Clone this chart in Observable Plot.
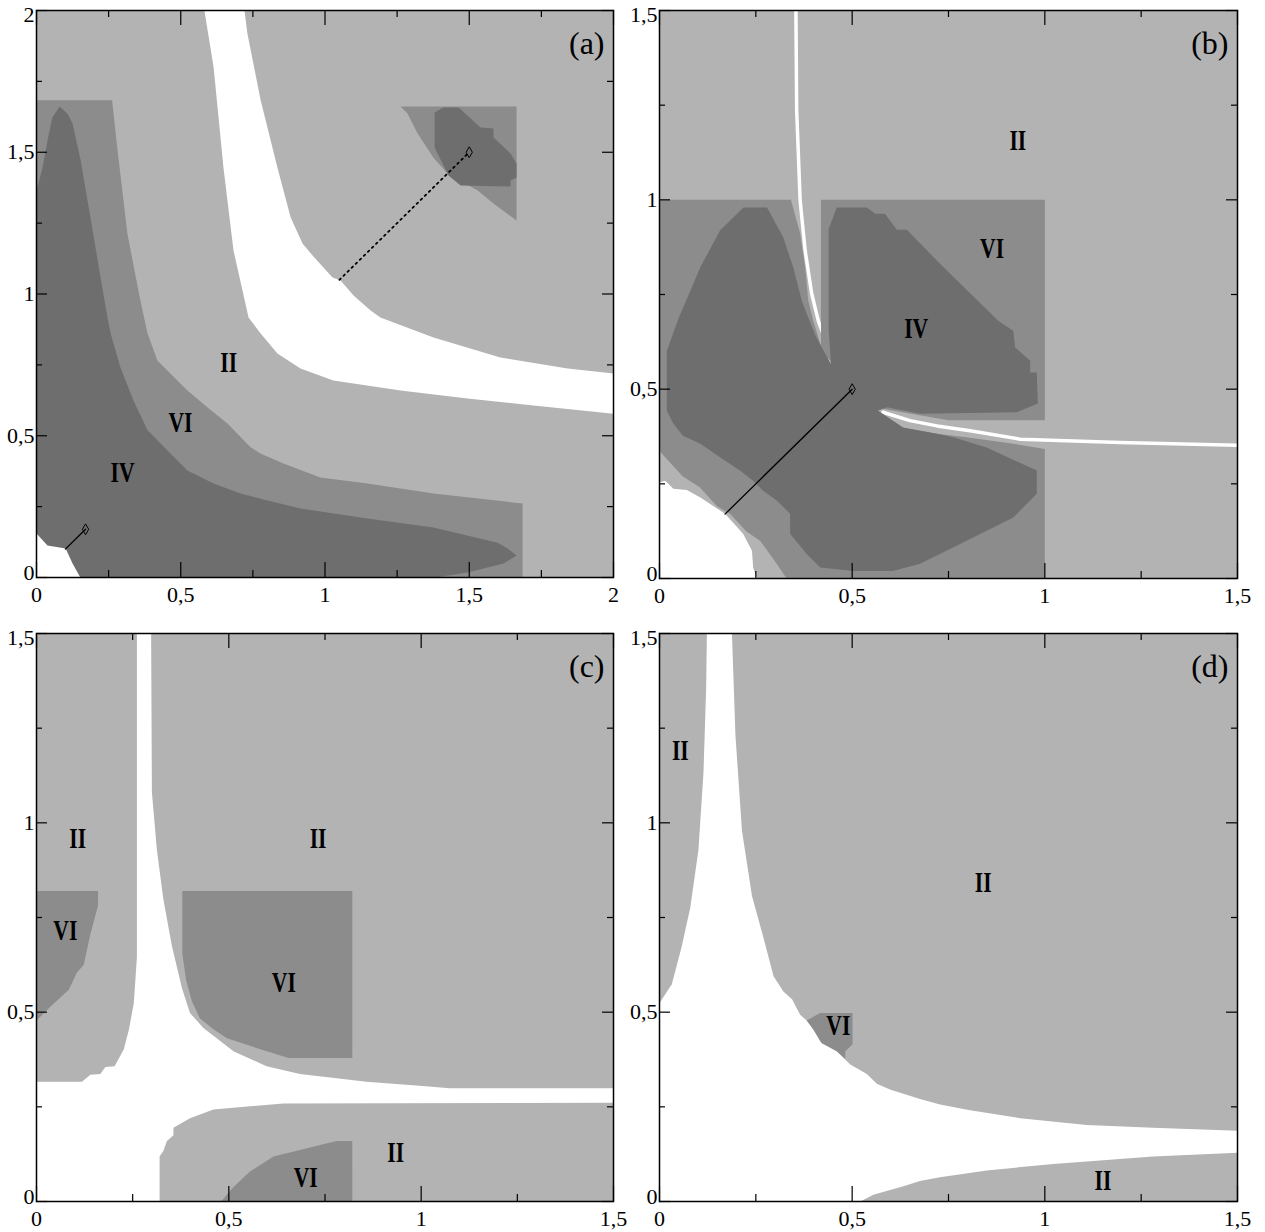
<!DOCTYPE html>
<html><head><meta charset="utf-8">
<script src="https://cdn.jsdelivr.net/npm/d3@7"></script>
<script src="https://cdn.jsdelivr.net/npm/@observablehq/plot@0.6"></script>
<style>
body{margin:0;background:#fff;}
#wrap{position:relative;width:1265px;height:1232px;overflow:hidden;}
#wrap svg{position:absolute;}
#wrap svg text{font-family:'Liberation Serif','Times New Roman',serif;}
</style></head><body><div id="wrap"></div>
<script>
// ---------- tick values ----------
const ticksA = [0, 0.5, 1, 1.5, 2];
const minorA = [0.25, 0.75, 1.25, 1.75];
const ticksB = [0, 0.5, 1, 1.5];
const minorB = [0.25, 0.75, 1.25];

// ---------- panel (a) ----------
const aWhiteBand = [[0.721,2],[0.731,1.919],[0.777,1.683],[0.835,1.446],[0.881,1.270],[0.922,1.178],[0.960,1.132],[1.026,1.058],[1.054,1.048],[1.099,0.995],[1.158,0.942],[1.192,0.917],[1.376,0.847],[1.608,0.776],[1.841,0.737],[2,0.720],[2,0.578],[1.723,0.607],[1.494,0.631],[1.262,0.660],[1.029,0.695],[0.915,0.737],[0.835,0.790],[0.777,0.861],[0.735,0.917],[0.683,1.153],[0.648,1.446],[0.614,1.799],[0.582,2]];
const aMedium = [[0,0],[0,1.683],[0.262,1.683],[0.281,1.506],[0.315,1.213],[0.360,0.977],[0.385,0.861],[0.419,0.765],[0.464,0.720],[0.523,0.660],[0.593,0.600],[0.662,0.543],[0.742,0.459],[0.776,0.437],[0.856,0.402],[0.984,0.353],[1.147,0.332],[1.376,0.296],[1.685,0.261],[1.685,0]];
const aDark = [[0,1.365],[0.021,1.446],[0.038,1.541],[0.055,1.623],[0.080,1.661],[0.107,1.637],[0.125,1.601],[0.153,1.471],[0.187,1.270],[0.222,1.058],[0.246,0.917],[0.257,0.861],[0.291,0.741],[0.336,0.624],[0.385,0.519],[0.454,0.448],[0.523,0.377],[0.614,0.332],[0.707,0.296],[0.801,0.272],[0.915,0.243],[1.147,0.208],[1.376,0.176],[1.598,0.123],[1.633,0.102],[1.664,0.078],[1.619,0.049],[1.494,0.018],[1.383,0],[0,0]];
const aCorner = [[0,0],[0,0.155],[0.038,0.113],[0.101,0.102],[0.125,0.049],[0.152,0]];
const aMedium2 = [[1.262,1.661],[1.664,1.661],[1.664,1.259],[1.584,1.319],[1.529,1.365],[1.480,1.393],[1.425,1.425],[1.376,1.481],[1.321,1.566],[1.286,1.637]];
const aDark2 = [[1.380,1.640],[1.411,1.658],[1.463,1.658],[1.539,1.587],[1.584,1.584],[1.584,1.552],[1.643,1.496],[1.664,1.460],[1.664,1.411],[1.643,1.400],[1.643,1.379],[1.470,1.383],[1.428,1.418],[1.390,1.496],[1.380,1.517]];
const aSolid = [[0.1,0.1],[0.17,0.17]];
const aDotted = [[1.05,1.05],[1.5,1.5]];
const aDiamonds = [[0.17,0.17],[1.5,1.5]];
const aLabels = [[0.666,0.758,"II"],[0.499,0.547,"VI"],[0.298,0.370,"IV"]];

// ---------- panel (b) ----------
const bWhiteTop = [[0.354,1.5],[0.356,1.236],[0.365,0.998],[0.378,0.866],[0.395,0.752],[0.412,0.681],[0.430,0.630],[0.443,0.580]];
const bWhiteRight = [[0.580,0.439],[0.650,0.417],[0.720,0.403],[0.806,0.390],[0.936,0.368],[1.195,0.359],[1.498,0.352]];
const bMediumL = [[0,1],[0.341,1],[0.365,0.911],[0.378,0.821],[0.386,0.734],[0.399,0.681],[0.417,0.620],[0.443,0.567],[0.567,0.443],[0.632,0.398],[0.720,0.382],[0.806,0.372],[0.918,0.356],[1,0.342],[1,0],[0.330,0],[0.300,0.045],[0.261,0.100],[0.225,0.125],[0.183,0.171],[0.150,0.190],[0.105,0.240],[0.060,0.270],[0,0.337]];
const bMediumR = [[0.419,1],[1,1],[1,0.418],[0.75,0.418],[0.567,0.45],[0.45,0.567],[0.419,0.60]];
const bDark = [[0.019,0.443],[0.019,0.601],[0.049,0.686],[0.080,0.760],[0.106,0.822],[0.157,0.919],[0.218,0.980],[0.279,0.980],[0.321,0.901],[0.347,0.822],[0.369,0.734],[0.382,0.699],[0.406,0.639],[0.445,0.566],[0.439,0.659],[0.439,0.923],[0.460,0.980],[0.538,0.980],[0.560,0.963],[0.585,0.963],[0.616,0.921],[0.642,0.921],[0.728,0.831],[0.879,0.681],[0.918,0.654],[0.923,0.610],[0.962,0.575],[0.962,0.544],[0.979,0.544],[0.982,0.462],[0.927,0.439],[0.676,0.435],[0.590,0.452],[0.567,0.443],[0.632,0.399],[0.720,0.382],[0.762,0.373],[0.849,0.346],[0.979,0.285],[0.979,0.224],[0.918,0.161],[0.762,0.082],[0.676,0.039],[0.606,0.020],[0.503,0.020],[0.417,0.029],[0.382,0.065],[0.339,0.118],[0.339,0.171],[0.305,0.205],[0.269,0.232],[0.243,0.258],[0.209,0.285],[0.157,0.320],[0.106,0.356],[0.061,0.377],[0.036,0.409]];
const bCorner = [[0,0],[0,0.254],[0.015,0.258],[0.036,0.237],[0.071,0.234],[0.106,0.214],[0.170,0.171],[0.217,0.118],[0.240,0.073],[0.243,0.029],[0.253,0]];
const bSolid = [[0.17,0.17],[0.5,0.5]];
const bDiamonds = [[0.5,0.5]];
const bLabels = [[0.930,1.156,"II"],[0.863,0.871,"VI"],[0.666,0.660,"IV"]];

// ---------- panel (c) ----------
const cLightUL = [[0,1.5],[0.261,1.5],[0.261,0.645],[0.253,0.524],[0.240,0.453],[0.227,0.402],[0.203,0.357],[0.179,0.355],[0.166,0.337],[0.140,0.335],[0.118,0.316],[0,0.316]];
const cLightUR = [[0.298,1.5],[1.5,1.5],[1.5,0.299],[1.074,0.299],[0.996,0.306],[0.858,0.316],[0.685,0.337],[0.598,0.357],[0.512,0.397],[0.460,0.438],[0.434,0.458],[0.399,0.498],[0.378,0.564],[0.352,0.675],[0.330,0.797],[0.313,0.928],[0.300,1.080]];
const cLightB = [[0.320,0],[0.320,0.119],[0.330,0.134],[0.339,0.160],[0.356,0.175],[0.356,0.195],[0.399,0.220],[0.460,0.243],[0.642,0.259],[1.5,0.261],[1.5,0]];
const cMedUL = [[0,0.820],[0.160,0.820],[0.160,0.782],[0.140,0.706],[0.123,0.625],[0.105,0.605],[0.084,0.559],[0.036,0.514],[0,0.478]];
const cMedC = [[0.379,0.820],[0.821,0.820],[0.821,0.379],[0.655,0.379],[0.555,0.411],[0.495,0.431],[0.460,0.455],[0.425,0.483],[0.404,0.529],[0.389,0.584],[0.379,0.655]];
const cMedB = [[0.480,0],[0.512,0.038],[0.555,0.079],[0.616,0.119],[0.780,0.160],[0.821,0.160],[0.821,0]];
const cLabels = [[0.107,0.959,"II"],[0.732,0.959,"II"],[0.075,0.716,"VI"],[0.643,0.579,"VI"],[0.700,0.063,"VI"],[0.934,0.129,"II"]];

// ---------- panel (d) ----------
const dLightUL = [[0,1.5],[0.123,1.5],[0.121,1.353],[0.114,1.130],[0.101,0.928],[0.080,0.777],[0.058,0.675],[0.032,0.574],[0,0.524]];
const dLightUR = [[0.188,1.5],[1.5,1.5],[1.5,0.187],[1.281,0.195],[1.109,0.202],[0.936,0.220],[0.806,0.241],[0.728,0.256],[0.676,0.271],[0.598,0.296],[0.564,0.311],[0.538,0.337],[0.495,0.362],[0.460,0.397],[0.417,0.423],[0.395,0.463],[0.382,0.478],[0.365,0.493],[0.344,0.534],[0.322,0.554],[0.296,0.595],[0.270,0.696],[0.240,0.807],[0.214,0.979],[0.197,1.232]];
const dLightB = [[0.521,0],[0.555,0.018],[0.633,0.040],[0.676,0.054],[0.728,0.064],[0.849,0.082],[1.022,0.099],[1.281,0.119],[1.5,0.129],[1.5,0]];
const dMed = [[0.382,0.478],[0.417,0.498],[0.501,0.498],[0.501,0.415],[0.482,0.397],[0.482,0.377],[0.460,0.397],[0.421,0.418],[0.400,0.453]];
const dLabels = [[0.054,1.192,"II"],[0.840,0.843,"II"],[0.464,0.465,"VI"],[1.151,0.055,"II"]];

// ---------- styling ----------
const LIGHT = "#b3b3b3", MED = "#8c8c8c", DARK = "#6e6e6e";
const FONT = "'Liberation Serif', 'Times New Roman', serif";
const TICKFS = 22;
const fmt = d => String(d).replace(".", ",");

const poly = (pts, fill) => Plot.line(pts, {x: d => d[0], y: d => d[1], fill, stroke: "none", curve: "linear-closed"});
const seg = (pts, extra = {}) => Plot.line(pts, {x: d => d[0], y: d => d[1], stroke: "black", strokeWidth: 1.3, ...extra});
const dia = pts => Plot.dot(pts, {x: d => d[0], y: d => d[1], symbol: "diamond", r: 3.3, stroke: "black", fill: "none", strokeWidth: 1});
const romans = labs => Plot.text(labs, {x: d => d[0], y: d => d[1], text: d => d[2], fontWeight: "bold", fontSize: 30, fontFamily: FONT, fill: "black"});
const letter = s => Plot.text([s], {frameAnchor: "top-right", dx: -9, dy: 21, textAnchor: "end", lineAnchor: "top", fontSize: 32, fontFamily: FONT, fill: "black"});

function tickMarks(majors, minors, pw, ph) {
  const m = [];
  const acc = d => d;
  for (const [vals, lx, ly] of [[majors, 15, 11], [minors, 7, 6]]) {
    m.push(Plot.tickX(vals, {x: acc, insetTop: ph - lx, stroke: "black", strokeWidth: 1.2}));
    m.push(Plot.tickX(vals, {x: acc, insetBottom: ph - lx, stroke: "black", strokeWidth: 1.2}));
    m.push(Plot.tickY(vals, {y: acc, insetRight: pw - ly, stroke: "black", strokeWidth: 1.2}));
    m.push(Plot.tickY(vals, {y: acc, insetLeft: pw - ly, stroke: "black", strokeWidth: 1.2}));
  }
  return m;
}

function panel({left, top, W, H, ml, mr, mt, mb, dom, majors, minors, bg, body}) {
  const pw = W - ml - mr, ph = H - mt - mb;
  const n = majors.length;
  const yAx = (vals, dy) => Plot.axisY(vals, {tickSize: 0, tickPadding: 2, tickFormat: fmt, label: null, fontSize: TICKFS, fontFamily: FONT, dy});
  const svg = Plot.plot({
    width: W, height: H, marginLeft: ml, marginRight: mr, marginTop: mt, marginBottom: mb,
    x: {domain: dom}, y: {domain: dom},
    style: {fontFamily: FONT, fontSize: TICKFS + "px", background: "transparent", color: "black"},
    marks: [
      Plot.frame({fill: bg, stroke: "none"}),
      ...body,
      ...tickMarks(majors, minors, pw, ph),
      Plot.axisX(majors, {tickSize: 0, tickPadding: 9, tickFormat: fmt, label: null, fontSize: TICKFS, fontFamily: FONT}),
      yAx([majors[0]], -5),
      yAx(majors.slice(1, n - 1), 0),
      yAx([majors[n - 1]], 4),
      Plot.frame({stroke: "black", strokeWidth: 1.5, fill: "none"})
    ]
  });
  svg.querySelectorAll("text").forEach(t => {
    if (/^(II|IV|VI)$/.test(t.textContent.trim())) {
      const tr = t.getAttribute("transform") || "";
      t.setAttribute("transform", tr + " scale(0.72,1)");
    }
  });
  svg.style.left = left + "px";
  svg.style.top = top + "px";
  document.getElementById("wrap").appendChild(svg);
}

panel({left: 0, top: 0, W: 640, H: 612, ml: 36, mr: 27, mt: 10, mb: 35, dom: [0, 2], majors: ticksA, minors: minorA, bg: LIGHT,
  body: [poly(aWhiteBand, "white"), poly(aMedium, MED), poly(aDark, DARK), poly(aCorner, "white"), poly(aMedium2, MED), poly(aDark2, DARK),
    seg(aSolid), seg(aDotted, {strokeWidth: 1.8, strokeDasharray: "1.8 3.9"}), dia(aDiamonds), romans(aLabels), letter("(a)")]});

panel({left: 622, top: 0, W: 643, H: 612, ml: 37, mr: 28, mt: 10, mb: 34, dom: [0, 1.5], majors: ticksB, minors: minorB, bg: LIGHT,
  body: [seg(bWhiteTop, {stroke: "white", strokeWidth: 3.5}), seg(bWhiteRight, {stroke: "white", strokeWidth: 3.5}),
    poly(bMediumL, MED), poly(bMediumR, MED), poly(bDark, DARK), poly(bCorner, "white"),
    seg(bSolid), dia(bDiamonds), romans(bLabels), letter("(b)")]});

panel({left: 0, top: 620, W: 640, H: 612, ml: 36, mr: 27, mt: 13, mb: 31, dom: [0, 1.5], majors: ticksB, minors: minorB, bg: "white",
  body: [poly(cLightUL, LIGHT), poly(cLightUR, LIGHT), poly(cLightB, LIGHT), poly(cMedUL, MED), poly(cMedC, MED), poly(cMedB, MED),
    romans(cLabels), letter("(c)")]});

panel({left: 622, top: 620, W: 643, H: 612, ml: 37, mr: 28, mt: 13, mb: 31, dom: [0, 1.5], majors: ticksB, minors: minorB, bg: "white",
  body: [poly(dLightUL, LIGHT), poly(dLightUR, LIGHT), poly(dLightB, LIGHT), poly(dMed, MED),
    romans(dLabels), letter("(d)")]});
</script></body></html>
